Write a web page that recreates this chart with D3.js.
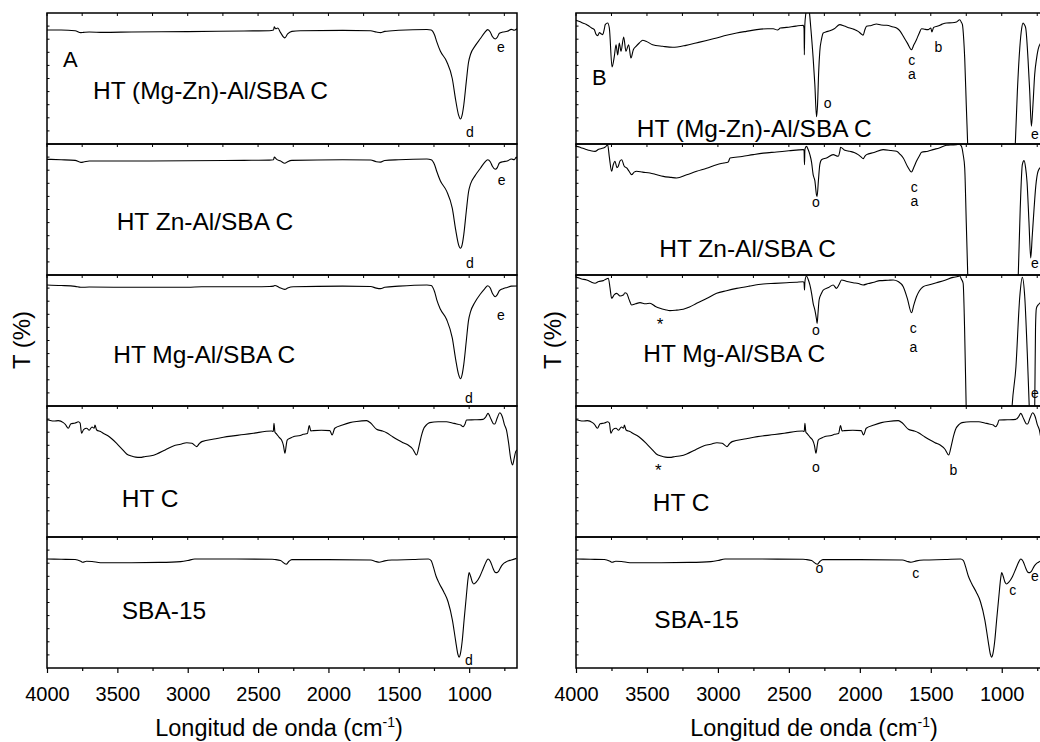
<!DOCTYPE html>
<html>
<head>
<meta charset="utf-8">
<script src="https://cdn.jsdelivr.net/npm/d3@7"></script>
<style>
  body { margin: 0; background: #fff; }
  svg { display: block; font-family: Arial, "Liberation Sans", sans-serif; }
</style>
</head>
<body>
<svg id="chart" width="1040" height="742"></svg>
<script>
// wavenumber axis
var majorTicks = [4000, 3500, 3000, 2500, 2000, 1500, 1000];
var minorTicks = [3750, 3250, 2750, 2250, 1750, 1250, 750];
var sampleNames = ["HT (Mg-Zn)-Al/SBA C", "HT Zn-Al/SBA C", "HT Mg-Al/SBA C", "HT C", "SBA-15"];

// spectra, [wavenumber, T] (T in % of the stacked row)
var mgznA = [[4000,87],[3900,87],[3800,86.5],[3760,85],[3740,85.2],[3700,85.5],[3600,85.2],[3400,85.5],[3000,85.8],[2600,86.3],[2420,86.5],[2390,87],[2385,89.5],[2375,88],[2360,88.5],[2340,85],[2310,81],[2290,84],[2260,86],[2200,86.5],[1900,86.7],[1700,86.5],[1660,85.5],[1630,85],[1600,86],[1500,86.8],[1300,87.4],[1270,87],[1245,83],[1230,78],[1205,71],[1160,63],[1120,50],[1095,33],[1075,22],[1062,19.1],[1050,22],[1038,30],[1020,48],[1005,62],[990,68.5],[960,74.5],[920,80.5],[890,85],[868,87.3],[850,85.5],[835,82],[815,80.2],[800,81.5],[785,84.5],[760,85.5],[730,86],[700,87.5],[680,86.8],[660,88]];
var znalA = [[4000,88.3],[3900,88],[3800,87.5],[3760,86],[3740,86.2],[3700,87],[3400,87],[3000,87.2],[2600,87.5],[2420,87.7],[2390,88],[2385,90],[2370,88.5],[2340,87],[2310,85.3],[2290,86.5],[2260,87.5],[1900,88],[1700,87.8],[1660,86.5],[1630,86.2],[1600,87.4],[1500,88],[1300,88.5],[1270,88],[1245,84],[1230,79],[1205,72],[1160,64],[1120,51],[1095,34],[1075,23],[1062,20.4],[1050,23],[1038,31],[1020,49],[1005,63],[990,69.5],[960,75.5],[920,81.5],[890,86],[868,88],[850,86.5],[835,83],[815,80.7],[800,82],[785,85.5],[760,86.5],[730,87],[700,88.5],[680,88],[665,90],[660,89]];
var mgalA = [[4000,92.4],[3900,92],[3800,91.3],[3760,90.6],[3700,90.8],[3400,90.6],[3000,90.6],[2900,91],[2600,91],[2420,91.2],[2390,91.5],[2380,92],[2350,90.5],[2310,89],[2290,90],[2250,91],[1900,91.5],[1700,91.2],[1660,90],[1630,89.6],[1600,90.6],[1500,91.5],[1300,92.4],[1270,92],[1245,87],[1230,81],[1205,74],[1160,66],[1120,52],[1095,35],[1075,24],[1062,20.8],[1050,24],[1038,32],[1020,50],[1005,65],[990,72],[960,79],[920,85.5],[890,89.5],[868,91.8],[850,90],[835,86],[815,83.4],[800,85],[785,88],[760,89.5],[730,90.5],[700,91.5],[660,91.6]];
var htC = [[4000,89.5],[3990,89.3],[3950,88.5],[3920,88.8],[3884,87.3],[3870,86],[3849,83],[3830,86.5],[3800,87],[3777,88],[3765,87],[3754,79.2],[3740,82],[3718,83],[3700,81.5],[3680,84],[3665,83],[3659,85.5],[3647,81.7],[3620,80.5],[3600,79.2],[3570,77.5],[3540,75],[3505,71.5],[3470,67.5],[3434,63.4],[3400,61.8],[3370,61],[3339,60.8],[3300,61.5],[3260,62],[3220,63.4],[3160,66.5],[3102,69.5],[3050,70.8],[3007,72],[2970,71.5],[2936,69],[2920,71],[2900,72.8],[2800,75],[2722,76.6],[2600,78.2],[2533,79.2],[2404,80.9],[2392,80.5],[2387,86.8],[2380,80],[2368,78.6],[2350,76],[2333,74],[2320,70],[2309,63.9],[2300,70],[2293,74],[2270,75.5],[2250,76.6],[2200,77.5],[2179,78.4],[2150,79],[2136,85],[2125,81],[2108,81.2],[2050,81.5],[1990,81.2],[1974,77.9],[1955,83],[1900,85.5],[1848,87.3],[1800,88.2],[1729,88.8],[1700,87],[1658,82.2],[1620,81],[1587,79.6],[1550,77],[1505,74],[1470,72],[1434,70.2],[1400,67],[1374,62.6],[1355,70],[1340,77],[1327,81.7],[1300,86],[1280,87.3],[1220,88],[1161,88],[1120,87],[1090,86.3],[1060,85.5],[1043,84.2],[1030,86],[1019,89.3],[960,89.5],[901,89.8],[880,92],[866,94.4],[845,90],[825,86.3],[818,86.3],[800,91],[783,94.9],[765,92],[750,86],[735,81.7],[720,72],[705,60],[692,55],[680,60],[670,65],[660,66.4]];
var sba15 = [[4000,83.2],[3900,83],[3800,82.8],[3760,81.5],[3745,80.7],[3720,81.5],[3680,81.3],[3620,80.4],[3400,80.4],[3200,80.6],[3050,81.2],[3000,82],[2950,83.2],[2800,83.2],[2400,83],[2380,82.8],[2340,82],[2300,79.2],[2280,81.5],[2260,82.7],[2000,82.7],[1700,82.4],[1660,81.2],[1640,80.7],[1600,81.8],[1550,82.4],[1400,82.8],[1290,83.2],[1270,82],[1255,77.4],[1235,70],[1213,64.7],[1180,58],[1150,50.6],[1119,36.6],[1095,20],[1080,10.5],[1072,8.2],[1062,11],[1050,20],[1036,36.6],[1020,55],[1008,68],[1000,72.8],[990,70],[975,65],[967,64.1],[950,65.5],[925,69.7],[900,76],[880,81],[866,83.2],[850,81.5],[830,76],[815,73],[802,72.8],[790,74],[770,78],[750,80.2],[735,81.2],[700,82.5],[664,83.7]];

// expanded (panel B) traces of the supported samples
var mgznB = [[4000,94.4],[3975,93.5],[3953,92.4],[3930,91.5],[3906,89.8],[3890,88.5],[3871,87.3],[3860,84],[3847,82.7],[3835,85],[3824,84.2],[3812,83.5],[3800,88],[3794,91.1],[3777,92.4],[3765,88.5],[3746,58.8],[3730,66.9],[3718,75.8],[3706,68],[3695,77.1],[3683,70.8],[3664,81.7],[3648,70.8],[3629,75.8],[3613,65.6],[3596,72],[3577,74.6],[3554,77.1],[3530,79.2],[3507,78.5],[3460,75.8],[3389,74.6],[3319,73.8],[3225,75.3],[3154,77.1],[3080,79],[3009,80.9],[2940,83],[2868,84.7],[2800,86],[2727,87.3],[2650,88],[2610,88],[2580,87],[2560,88.5],[2516,89],[2450,90],[2399,90.6],[2393,88],[2391,68],[2388,90],[2380,100],[2372,106],[2360,104],[2345,88],[2329,65.6],[2317,45.3],[2305,20.8],[2298,30],[2290,55],[2282,70.8],[2270,80],[2258,84.7],[2240,85.5],[2211,86.5],[2180,88],[2141,91.1],[2110,90],[2070,88.5],[2040,87.5],[2012,86],[1990,84],[1977,83],[1965,87],[1953,89.8],[1920,90.5],[1882,91.6],[1850,90.8],[1812,90.6],[1770,89.5],[1741,88.5],[1715,86],[1694,82.2],[1665,77],[1636,72],[1620,75.5],[1601,79.6],[1580,85],[1565,88],[1540,87.5],[1519,87.3],[1500,88.5],[1492,85.5],[1480,89],[1450,90],[1420,91.5],[1389,92.4],[1350,92.5],[1319,93.1],[1296,94.9],[1285,93],[1277,91.1],[1268,80],[1261,65.6],[1250,30],[1237,-10],[1220,-80],[1150,-300],[1060,-600],[980,-300],[930,-80],[908,-10],[890,40],[873,73.3],[860,88],[850,92.4],[840,91],[831,88.5],[815,65],[803,40.2],[791,13.5],[780,30],[768,52.9],[755,65],[744,72],[720,78],[690,80],[660,82]];
var znalB = [[4000,98.2],[3995,98.2],[3960,97],[3937,96.2],[3900,95],[3866,94.4],[3840,96],[3808,96.9],[3790,98],[3777,99.5],[3765,90],[3749,79.2],[3738,84],[3725,86.8],[3712,82],[3702,83],[3690,87],[3678,88],[3660,83],[3643,81.7],[3625,79],[3608,76.6],[3590,78.5],[3573,79.2],[3530,78.5],[3479,77.9],[3430,76.5],[3385,75.3],[3330,74.5],[3291,74],[3220,76.5],[3150,79.2],[3080,81.5],[3009,84.2],[2960,85.5],[2927,86.3],[2915,89.3],[2830,90.5],[2751,91.9],[2680,93],[2587,93.9],[2500,94.8],[2399,95.7],[2393,95],[2390,84.2],[2387,96],[2376,98.2],[2365,96],[2352,91.9],[2340,86],[2329,76.6],[2317,72],[2305,61],[2301,60],[2292,72],[2282,84.2],[2270,88],[2235,89.3],[2188,91.9],[2153,90.6],[2140,95],[2136,97.5],[2110,95.5],[2070,94.4],[2040,93.5],[2012,91.9],[1990,90],[1977,88.8],[1965,90.5],[1953,91.9],[1900,93.5],[1836,95.7],[1780,95],[1741,94.4],[1715,92],[1694,89.3],[1665,83],[1636,78.6],[1620,82],[1601,86.8],[1580,91],[1565,93.7],[1520,94.5],[1484,95.7],[1440,97],[1389,99],[1350,99.3],[1319,99.5],[1300,99.8],[1284,98.2],[1272,92],[1261,81.7],[1250,40],[1237,-10],[1200,-150],[1060,-600],[950,-200],[900,-40],[885,-5],[870,50],[855,84.2],[843,87.3],[832,82],[822,71.2],[808,40],[796,13],[785,30],[772,51.1],[760,68],[744,79.2],[720,83],[690,85],[660,87]];
var mgalB = [[4000,98.2],[3995,98.2],[3960,97],[3925,96.2],[3900,95],[3866,93.7],[3840,95],[3808,95.7],[3790,96.8],[3772,97.5],[3760,90],[3749,82.2],[3730,85],[3713,86],[3690,84],[3667,84.7],[3655,86.5],[3643,86],[3625,81],[3608,77.1],[3580,78],[3549,78.9],[3510,78],[3479,78.4],[3440,76],[3408,74.6],[3370,73.5],[3338,72.8],[3290,73.2],[3244,73.8],[3200,75.5],[3150,78.4],[3080,82],[3009,86],[2940,88],[2868,89.8],[2780,91.5],[2681,93.1],[2600,93.6],[2516,94.1],[2450,94.5],[2399,94.9],[2393,94],[2390,88.5],[2387,95],[2376,99.2],[2365,97],[2352,92.4],[2340,86],[2329,78.4],[2317,73.3],[2305,66],[2301,63.1],[2294,72],[2287,80.9],[2270,86],[2258,88.5],[2220,90.5],[2188,92.4],[2165,89.8],[2145,93],[2129,96.2],[2090,95],[2047,94.1],[2010,93.5],[1977,92.4],[1940,93.5],[1900,94.5],[1859,95.7],[1800,96],[1765,96.2],[1730,95],[1694,91.1],[1665,82],[1636,71.2],[1620,77],[1601,83.4],[1580,88],[1554,91.1],[1510,92.5],[1460,94.1],[1400,96],[1343,98.2],[1310,98.8],[1296,99.2],[1285,97],[1272,93.7],[1262,60],[1249,-10],[1200,-150],[1060,-700],[960,-200],[932,-10],[900,30],[873,83.4],[855,98.2],[838,83.4],[820,40],[803,-10],[790,-60],[778,-40],[768,-5],[762,60],[756,74.6],[745,77],[732,78.4],[700,82],[660,85]];

// band labels: [row, wavenumber, T, text]
var marksA = [[0,775,70,"e"],[0,994,5.6,"d"],[1,769,68.9,"e"],[1,994,5.1,"d"],[2,774,65.6,"e"],[2,1001,2.5,"d"],[4,1001,2.3,"d"]];
var marksB = [[0,2226,27.5,"o"],[0,1634,60.3,"c"],[0,1634,49.6,"a"],[0,1447,70.5,"b"],[0,753,3.6,"e"],
  [1,2309,51.7,"o"],[1,1616,63.6,"c"],[1,1616,52.7,"a"],[1,737,5.1,"e"],
  [2,3408,58,"*"],[2,2309,54.2,"o"],[2,1623,55.5,"c"],[2,1623,41.5,"a"],[2,723,6.1,"e"],
  [3,3420,46.6,"*"],[3,2309,49.8,"o"],[3,1341,47.3,"b"],
  [4,2285,72.3,"o"],[4,1606,68.5,"c"],[4,923,55.7,"c"],[4,737,66.6,"e"]];
// sample name positions: [wavenumber, T] per row
var namesA = [[3673,34.1],[3505,34.4],[3529,33],[3469,22.7],[3469,37.4]];
var namesB = [[3572,5.6],[3413,14],[3526,33.8],[3459,20.1],[3448,30.3]];

var svg = d3.select("#chart");
svg.append("rect").attr("width", 1040).attr("height", 742).attr("fill", "#fff");

var top0 = 13, rowH = 131, nRows = 5;
var bottom = top0 + rowH * nRows;
var svgW = 1040;

var panels = [
  {id: "A", left: 47, right: 517, letter: [3886, 58.8], series: [mgznA, znalA, mgalA, htC, sba15], marks: marksA, names: namesA, ylab: 22, xlab: 279},
  {id: "B", left: 576, right: 1050, letter: [3887, 45], series: [mgznB, znalB, mgalB, htC, sba15], marks: marksB, names: namesB, ylab: 553, xlab: 814}
];

panels.forEach(function(p) {
  var x = d3.scaleLinear().domain([4000, 660]).range([p.left, p.right]);
  var g = svg.append("g");

  for (var i = 0; i < nRows; i++) {
    var rt = top0 + i * rowH;
    var y = d3.scaleLinear().domain([0, 100]).range([rt + rowH, rt]);
    var clipId = "clip" + p.id + i;
    svg.append("clipPath").attr("id", clipId)
      .append("rect").attr("x", p.left).attr("y", rt).attr("width", p.right - p.left).attr("height", rowH);

    var line = d3.line()
      .x(function(d) { return x(d[0]); })
      .y(function(d) { return y(d[1]); })
      .curve(d3.curveMonotoneX);

    g.append("path")
      .datum(p.series[i])
      .attr("clip-path", "url(#" + clipId + ")")
      .attr("fill", "none")
      .attr("stroke", "#000")
      .attr("stroke-width", 1.1)
      .attr("d", line);

    // small inner ticks on top edge and left edge of each row
    g.selectAll(null).data(majorTicks.concat(minorTicks)).enter()
      .append("line")
        .attr("x1", function(d) { return x(d); }).attr("x2", function(d) { return x(d); })
        .attr("y1", rt).attr("y2", rt + 3)
        .attr("stroke", "#000").attr("stroke-width", 1);
    g.selectAll(null).data(d3.range(10, 100, 10)).enter()
      .append("line")
        .attr("x1", p.left).attr("x2", p.left + 2.5)
        .attr("y1", function(d) { return y(d); }).attr("y2", function(d) { return y(d); })
        .attr("stroke", "#000").attr("stroke-width", 1);

    g.append("rect")
      .attr("x", p.left).attr("y", rt)
      .attr("width", p.right - p.left).attr("height", rowH)
      .attr("fill", "none").attr("stroke", "#000").attr("stroke-width", 1.5);

    g.append("text")
      .attr("x", x(p.names[i][0])).attr("y", y(p.names[i][1]))
      .attr("font-size", 24.5)
      .text(sampleNames[i]);

    // band letters; keep the ones at the clipped right edge inside the picture
    g.selectAll(null).data(p.marks.filter(function(m) { return m[0] === i; })).enter()
      .append("text")
        .attr("x", function(m) { return Math.min(x(m[1]), svgW - 5); })
        .attr("y", function(m) { return y(m[2]); })
        .attr("text-anchor", "middle")
        .attr("font-size", function(m) { return m[3] === "*" ? 17 : 14; })
        .text(function(m) { return m[3]; });

    if (i === 0) {
      g.append("text")
        .attr("x", x(p.letter[0])).attr("y", y(p.letter[1]))
        .attr("font-size", 22)
        .text(p.id);
    }
  }

  var axis = g.append("g").attr("transform", "translate(0," + bottom + ")");
  axis.call(d3.axisBottom(x).tickValues(majorTicks).tickSize(5).tickPadding(13.5).tickFormat(d3.format("d")));
  axis.append("g").call(d3.axisBottom(x).tickValues(minorTicks).tickSize(3).tickFormat(""));
  axis.selectAll(".domain").remove();
  axis.selectAll("line").attr("stroke-width", 1.2);
  axis.selectAll("text").attr("font-size", 20).attr("font-family", "Arial, 'Liberation Sans', sans-serif").attr("fill", "#000");

  var xt = g.append("text")
    .attr("x", p.xlab).attr("y", 736)
    .attr("text-anchor", "middle")
    .attr("font-size", 23.5);
  xt.append("tspan").text("Longitud de onda (cm");
  xt.append("tspan").attr("font-size", 14).attr("dy", -9).text("-1");
  xt.append("tspan").attr("dy", 9).text(")");

  g.append("text")
    .attr("transform", "translate(" + (p.ylab + 8) + "," + 340 + ") rotate(-90)")
    .attr("text-anchor", "middle")
    .attr("font-size", 24)
    .text("T (%)");
});
</script>
</body>
</html>
